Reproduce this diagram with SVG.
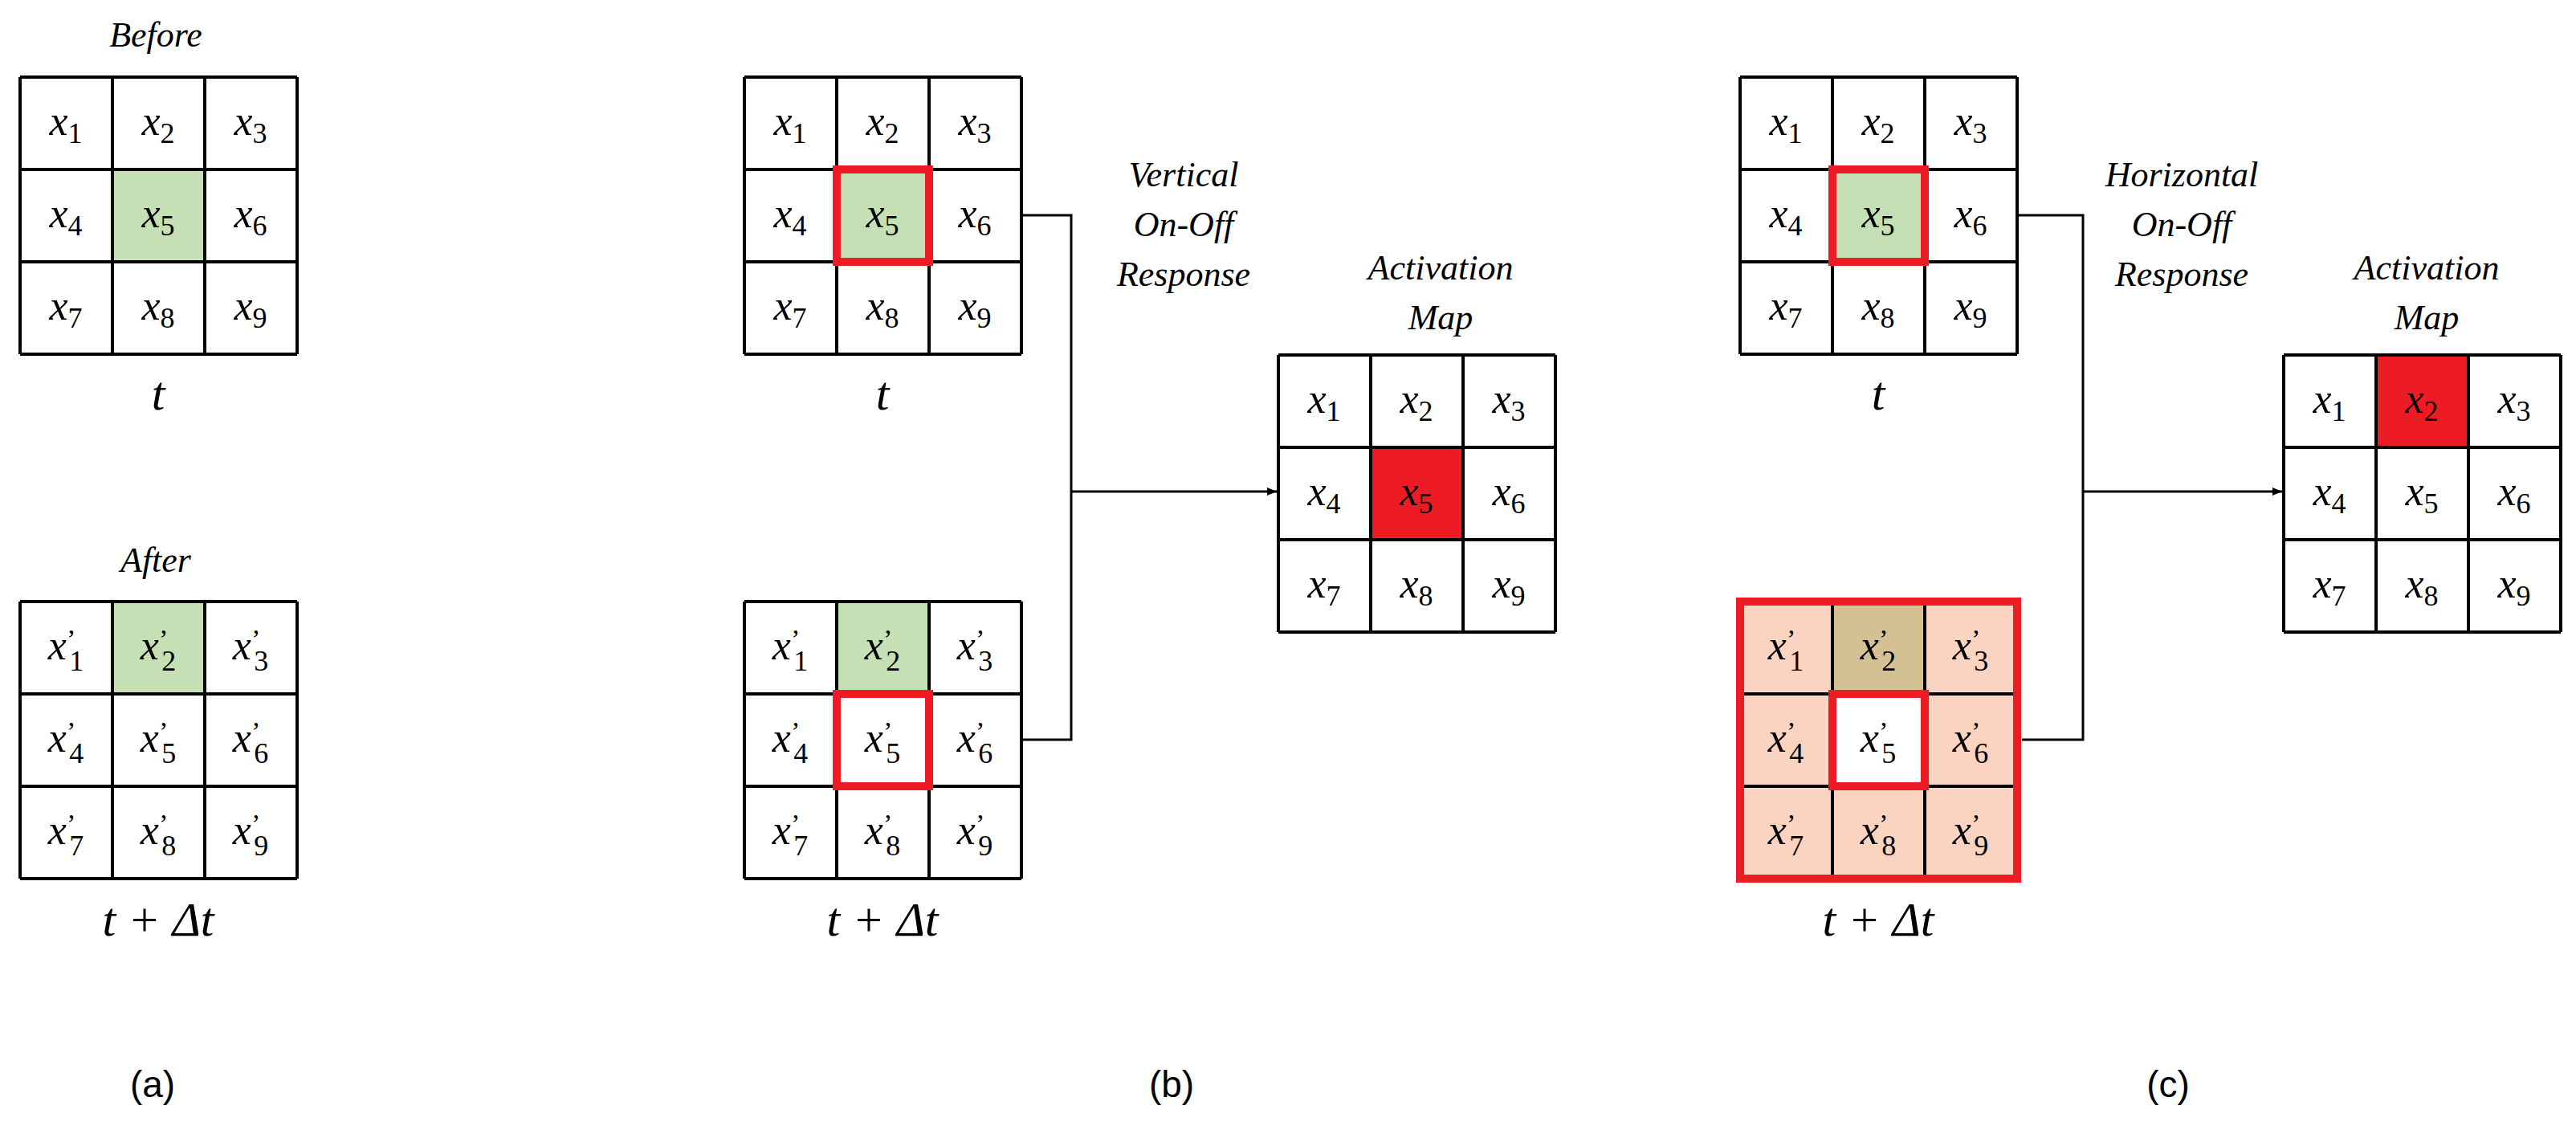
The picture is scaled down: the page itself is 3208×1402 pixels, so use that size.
<svg xmlns="http://www.w3.org/2000/svg" xmlns:xlink="http://www.w3.org/1999/xlink" width="3208" height="1402" viewBox="0 0 3208 1402">
<style>
.g line{stroke:#000;stroke-width:4}
.c{font-family:"Liberation Serif",serif;font-size:52px;text-anchor:middle}
.v{font-style:italic}
.s{font-size:36px}
.p{font-size:34px}
.lab{font-family:"Liberation Serif",serif;font-style:italic;font-size:44px;text-anchor:middle}
.mt{font-family:"Liberation Serif",serif;font-style:italic;font-size:60px;text-anchor:middle}
.cap{font-family:"Liberation Sans",sans-serif;font-size:46px;text-anchor:middle}
.rb{fill:none;stroke:#ed1c24;stroke-width:10}
.con{fill:none;stroke:#000;stroke-width:3}
</style>
<defs>
<g id="grid" class="g">
<line x1="0" y1="0" x2="345" y2="0"/><line x1="0" y1="115" x2="345" y2="115"/><line x1="0" y1="230" x2="345" y2="230"/><line x1="0" y1="345" x2="345" y2="345"/>
<line x1="0" y1="0" x2="0" y2="345"/><line x1="115" y1="0" x2="115" y2="345"/><line x1="230" y1="0" x2="230" y2="345"/><line x1="345" y1="0" x2="345" y2="345"/>
</g>
<g id="xs" class="c">
<text x="57" y="72"><tspan class="v">x</tspan><tspan class="s" dy="10">1</tspan></text>
<text x="172" y="72"><tspan class="v">x</tspan><tspan class="s" dy="10">2</tspan></text>
<text x="287" y="72"><tspan class="v">x</tspan><tspan class="s" dy="10">3</tspan></text>
<text x="57" y="187"><tspan class="v">x</tspan><tspan class="s" dy="10">4</tspan></text>
<text x="172" y="187"><tspan class="v">x</tspan><tspan class="s" dy="10">5</tspan></text>
<text x="287" y="187"><tspan class="v">x</tspan><tspan class="s" dy="10">6</tspan></text>
<text x="57" y="302"><tspan class="v">x</tspan><tspan class="s" dy="10">7</tspan></text>
<text x="172" y="302"><tspan class="v">x</tspan><tspan class="s" dy="10">8</tspan></text>
<text x="287" y="302"><tspan class="v">x</tspan><tspan class="s" dy="10">9</tspan></text>
</g>
<g id="xp" class="c">
<text x="57" y="72"><tspan class="v">x</tspan><tspan class="p" dy="-14">’</tspan><tspan class="s" dx="-8" dy="28">1</tspan></text>
<text x="172" y="72"><tspan class="v">x</tspan><tspan class="p" dy="-14">’</tspan><tspan class="s" dx="-8" dy="28">2</tspan></text>
<text x="287" y="72"><tspan class="v">x</tspan><tspan class="p" dy="-14">’</tspan><tspan class="s" dx="-8" dy="28">3</tspan></text>
<text x="57" y="187"><tspan class="v">x</tspan><tspan class="p" dy="-14">’</tspan><tspan class="s" dx="-8" dy="28">4</tspan></text>
<text x="172" y="187"><tspan class="v">x</tspan><tspan class="p" dy="-14">’</tspan><tspan class="s" dx="-8" dy="28">5</tspan></text>
<text x="287" y="187"><tspan class="v">x</tspan><tspan class="p" dy="-14">’</tspan><tspan class="s" dx="-8" dy="28">6</tspan></text>
<text x="57" y="302"><tspan class="v">x</tspan><tspan class="p" dy="-14">’</tspan><tspan class="s" dx="-8" dy="28">7</tspan></text>
<text x="172" y="302"><tspan class="v">x</tspan><tspan class="p" dy="-14">’</tspan><tspan class="s" dx="-8" dy="28">8</tspan></text>
<text x="287" y="302"><tspan class="v">x</tspan><tspan class="p" dy="-14">’</tspan><tspan class="s" dx="-8" dy="28">9</tspan></text>
</g>
<marker id="ar" markerWidth="12" markerHeight="10" refX="12" refY="5" orient="auto" markerUnits="userSpaceOnUse"><path d="M0,0 L22,5 L0,10z" transform="scale(0.55,1)"/></marker>
</defs>
<rect width="3208" height="1402" fill="#fff"/>

<g id="a-before">
<text class="lab" x="194" y="58" font-size="54">Before</text>
<rect x="140" y="211" width="115" height="115" fill="#c5e0b4"/>
<use href="#grid" x="25" y="96"/><use href="#xs" x="25" y="96"/>
<text class="mt" x="197" y="510">t</text>
</g>
<g id="a-after">
<text class="lab" x="194" y="712" font-size="54">After</text>
<rect x="140" y="749" width="115" height="115" fill="#c5e0b4"/>
<use href="#grid" x="25" y="749"/><use href="#xp" x="25" y="749"/>
<text class="mt" x="197" y="1165">t + Δt</text>
</g>
<text class="cap" x="190" y="1366">(a)</text>

<g id="b-t">
<rect x="1042" y="211" width="115" height="115" fill="#c5e0b4"/>
<use href="#grid" x="927" y="96"/><use href="#xs" x="927" y="96"/>
<rect class="rb" x="1042" y="211" width="115" height="115"/>
<text class="mt" x="1099" y="510">t</text>
</g>
<g id="b-dt">
<rect x="1042" y="749" width="115" height="115" fill="#c5e0b4"/>
<use href="#grid" x="927" y="749"/><use href="#xp" x="927" y="749"/>
<rect class="rb" x="1042" y="864" width="115" height="115"/>
<text class="mt" x="1099" y="1165">t + Δt</text>
</g>
<text class="lab" x="1474" y="232">Vertical</text>
<text class="lab" x="1474" y="294">On-Off</text>
<text class="lab" x="1474" y="356">Response</text>
<g id="b-map">
<text class="lab" x="1794" y="348">Activation</text>
<text class="lab" x="1794" y="410">Map</text>
<rect x="1707" y="557" width="115" height="115" fill="#ed1c24"/>
<use href="#grid" x="1592" y="442"/><use href="#xs" x="1592" y="442"/>
</g>
<text class="cap" x="1459" y="1366">(b)</text>

<g id="c-t">
<rect x="2282" y="211" width="115" height="115" fill="#c5e0b4"/>
<use href="#grid" x="2167" y="96"/><use href="#xs" x="2167" y="96"/>
<rect class="rb" x="2282" y="211" width="115" height="115"/>
<text class="mt" x="2339" y="510">t</text>
</g>
<g id="c-dt">
<rect x="2167" y="749" width="345" height="345" fill="#fbd3c1"/>
<rect x="2282" y="749" width="115" height="115" fill="#d3c193"/>
<rect x="2282" y="864" width="115" height="115" fill="#fff"/>
<use href="#grid" x="2167" y="749"/><use href="#xp" x="2167" y="749"/>
<rect class="rb" x="2282" y="864" width="115" height="115"/>
<rect class="rb" x="2167" y="749" width="345" height="345" stroke-width="12"/>
<text class="mt" x="2339" y="1165">t + Δt</text>
</g>
<text class="lab" x="2717" y="232">Horizontal</text>
<text class="lab" x="2717" y="294">On-Off</text>
<text class="lab" x="2717" y="356">Response</text>
<g id="c-map">
<text class="lab" x="3022" y="348">Activation</text>
<text class="lab" x="3022" y="410">Map</text>
<rect x="2959" y="442" width="115" height="115" fill="#ed1c24"/>
<use href="#grid" x="2844" y="442"/><use href="#xs" x="2844" y="442"/>
</g>
<text class="cap" x="2700" y="1366">(c)</text>

<g id="connectors">
<polyline class="con" points="1272,268 1334,268 1334,921 1272,921"/>
<line class="con" x1="1334" y1="612" x2="1590" y2="612" marker-end="url(#ar)"/>
<polyline class="con" points="2512,268 2594,268 2594,921 2518,921"/>
<line class="con" x1="2594" y1="612" x2="2842" y2="612" marker-end="url(#ar)"/>
</g>
</svg>
